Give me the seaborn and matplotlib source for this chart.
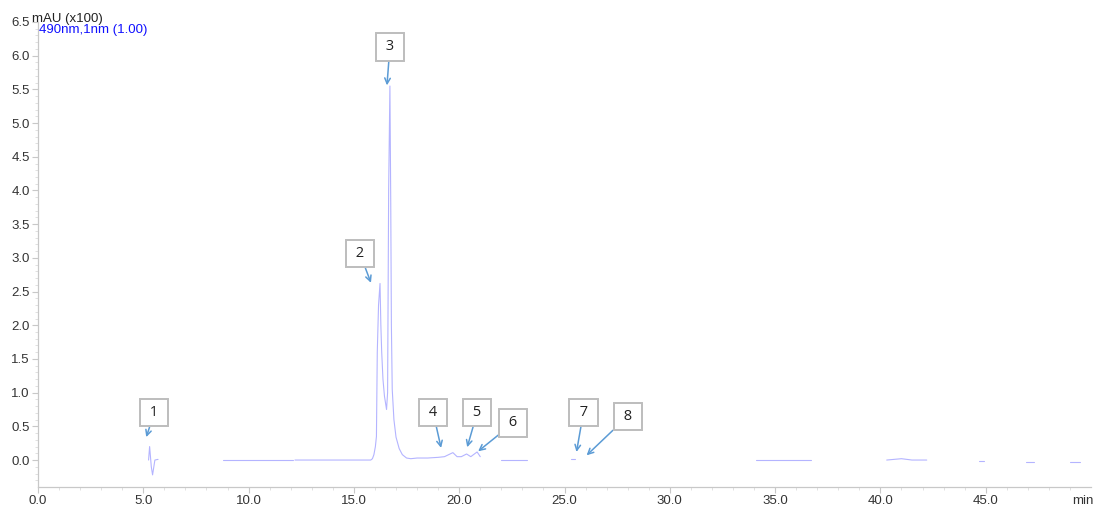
import numpy as np
import pandas as pd
import matplotlib
matplotlib.use("Agg")
import matplotlib.pyplot as plt
import seaborn as sns

# Retention time (min) and absorbance (mAU x100), grouped by recorded segment
seg_ids = [1, 1, 1, 1, 1, 1, 1,
           2, 2, 2, 2, 2,
           3, 3, 3, 3, 3, 3, 3, 3, 3, 3, 3, 3, 3, 3, 3, 3, 3, 3, 3, 3, 3, 3, 3, 3, 3, 3,
           3, 3, 3, 3, 3, 3, 3, 3, 3, 3, 3, 3, 3,
           4, 4, 5, 5,
           6, 6, 7, 7, 7, 7, 8, 8, 9, 9, 10, 10]
times = [5.25, 5.30, 5.34, 5.38, 5.44, 5.55, 5.70,
         8.80, 10.0, 11.0, 12.05, 12.10,
         12.20, 13.5, 15.0, 15.80, 15.88, 15.95, 16.02, 16.07, 16.11, 16.17, 16.24, 16.28,
         16.32, 16.38, 16.45, 16.55, 16.60, 16.65, 16.71, 16.75, 16.78, 16.82, 16.90, 17.00,
         17.15, 17.30,
         17.50, 17.70, 18.00, 18.50, 19.00, 19.30, 19.70, 19.90, 20.10, 20.35, 20.55, 20.85,
         21.00,
         22.00, 23.20, 25.30, 25.50,
         34.10, 36.70, 40.30, 41.0, 41.5, 42.20, 44.70, 44.90, 46.90, 47.30, 49.00, 49.50]
signal = [0.00, 0.20, 0.05, -0.10, -0.22, 0.00, 0.01,
          0.00, 0.00, 0.00, 0.00, 0.00,
          0.00, 0.00, 0.00, 0.00, 0.02, 0.08, 0.20, 0.35, 1.60, 2.30, 2.62, 2.00,
          1.60, 1.20, 0.95, 0.75, 1.00, 4.00, 5.55, 3.80, 2.00, 1.05, 0.60, 0.34,
          0.17, 0.08,
          0.03, 0.02, 0.03, 0.03, 0.04, 0.05, 0.11, 0.05, 0.05, 0.09, 0.05, 0.12,
          0.05,
          0.00, 0.00, 0.01, 0.01,
          0.00, 0.00, 0.00, 0.02, 0.00, 0.00, -0.01, -0.01, -0.03, -0.03, -0.03, -0.03]

# Peak callouts: label, arrow tip (time, signal), label box centre (time, signal)
peak_labels = ["1", "2", "3", "4", "5", "6", "7", "8"]
tip_t = [5.14, 15.81, 16.57, 19.14, 20.38, 20.90, 25.57, 26.05]
tip_v = [0.34, 2.63, 5.56, 0.18, 0.19, 0.13, 0.12, 0.07]
box_t = [5.52, 15.29, 16.71, 18.76, 20.86, 22.57, 25.90, 28.00]
box_v = [0.70, 3.06, 6.13, 0.71, 0.71, 0.55, 0.71, 0.65]

x_ticks = [0, 5, 10, 15, 20, 25, 30, 35, 40, 45]
x_tick_labels = ["0.0", "5.0", "10.0", "15.0", "20.0", "25.0", "30.0", "35.0", "40.0", "45.0"]
y_ticks = [0.0, 0.5, 1.0, 1.5, 2.0, 2.5, 3.0, 3.5, 4.0, 4.5, 5.0, 5.5, 6.0, 6.5]

sns.set_theme(style="white")
plt.rcParams["font.family"] = ["Liberation Sans", "DejaVu Sans"]

df = pd.DataFrame({"seg": seg_ids, "t": times, "v": signal})

fig = plt.figure(figsize=(10.93, 5.09), dpi=100)
ax = fig.add_axes([38 / 1093, 22 / 509, 1053 / 1093, 465 / 509])

sns.lineplot(data=df, x="t", y="v", units="seg", estimator=None,
             color="#b4b4ff", linewidth=0.8, ax=ax, legend=False)

ax.set_xlim(0, 50)
ax.set_ylim(-0.4, 6.5)
ax.set_xlabel("")
ax.set_ylabel("")

ax.set_xticks(x_ticks)
ax.set_xticklabels(x_tick_labels)
ax.set_xticks(np.arange(1, 50, 1), minor=True)
ax.set_yticks(y_ticks)
ax.set_yticklabels([f"{v:.1f}" for v in y_ticks])
ax.set_yticks(np.arange(-0.3, 6.5, 0.1), minor=True)

ax.tick_params(axis="both", which="major", length=4, width=0.8, color="#c8c8c8",
               labelsize=9.5, labelcolor="#333333", direction="out")
ax.tick_params(axis="x", which="major", pad=2)
ax.tick_params(axis="y", which="major", pad=2)
ax.tick_params(axis="both", which="minor", length=2, width=0.6, color="#dcdcdc",
               direction="out")
ax.tick_params(bottom=True, left=True, which="both")

for side in ("top", "right"):
    ax.spines[side].set_visible(False)
for side in ("left", "bottom"):
    ax.spines[side].set_color("#c8c8c8")
    ax.spines[side].set_linewidth(0.9)

# time unit sits at the end of the tick-label row
ax.annotate("min", xy=(49.6, 0), xycoords=("data", "axes fraction"),
            xytext=(0, -6), textcoords="offset points", ha="center", va="top",
            fontsize=9.5, color="#333333", annotation_clip=False)

fig.text(32 / 1093, 1 - 22 / 509, "mAU (x100)", fontsize=9.5, color="#222222",
         ha="left", va="baseline")
fig.text(39 / 1093, 1 - 33 / 509, "490nm,1nm (1.00)", fontsize=9.5, color="#1010ff",
         ha="left", va="baseline")

for lab, tx, ty, bx, by in zip(peak_labels, tip_t, tip_v, box_t, box_v):
    ax.annotate(f" {lab} ", xy=(tx, ty), xytext=(bx, by), ha="center", va="center",
                fontsize=10.5, color="#222222", family=["Open Sans", "DejaVu Sans"],
                bbox=dict(boxstyle="square,pad=0.42", fc="white", ec="#bdbdbd", lw=1.4),
                arrowprops=dict(arrowstyle="->", color="#5b9bd5", lw=1.1,
                                shrinkA=0, shrinkB=0, mutation_scale=10))

fig.savefig("out.png", dpi=100)
